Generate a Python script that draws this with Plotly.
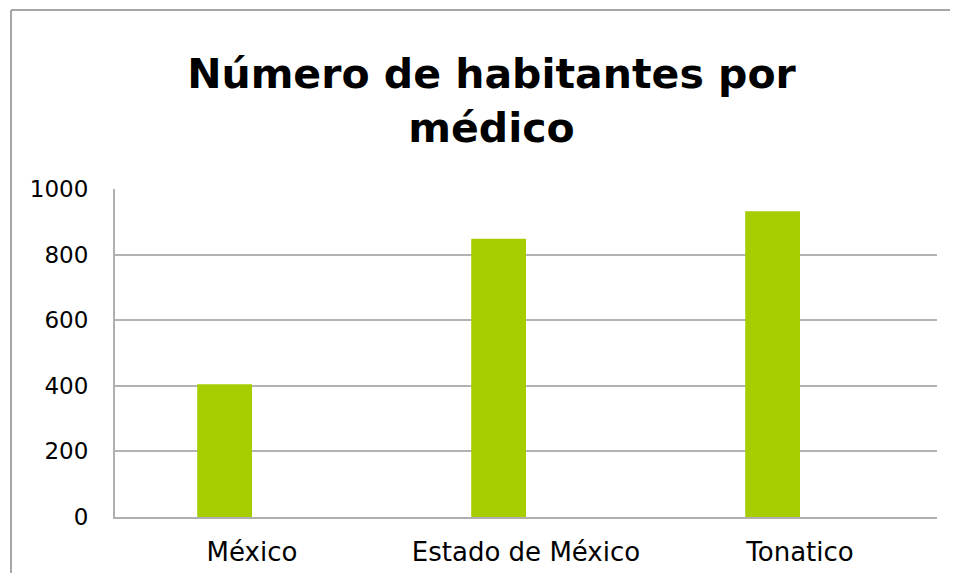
import plotly.graph_objects as go

categories = ["México", "Estado de México", "Tonatico"]
values = [405, 848, 932]
y_ticks = [0, 200, 400, 600, 800, 1000]

FONT = "DejaVu Sans"

fig = go.Figure()
fig.add_trace(go.Bar(
    x=categories, y=values,
    marker=dict(color="#A5CD00", line=dict(width=0)),
    width=0.2, offset=-0.2,
    showlegend=False,
))

fig.update_layout(
    width=950, height=565,
    margin=dict(l=107, r=21, t=181, b=56),
    paper_bgcolor="white", plot_bgcolor="white",
    font=dict(family=FONT, color="black"),
    title=dict(
        text="<b>Número de habitantes por<br>médico</b>",
        x=0.458, xanchor="center", xref="paper",
        y=0.858, yanchor="top", yref="container",
        font=dict(family=FONT, size=41, color="black"),
    ),
    xaxis=dict(
        type="category", range=[-0.5, 2.5], automargin=False,
        showgrid=False, showline=True, linecolor="#AFAFAF", linewidth=2,
        tickfont=dict(size=26, family=FONT),
        ticks="", ticklabelstandoff=11,
    ),
    yaxis=dict(
        range=[0, 1000], tickvals=y_ticks, automargin=False,
        showgrid=True, gridcolor="#B3B3B3", gridwidth=2,
        showline=True, linecolor="#AFAFAF", linewidth=2,
        zeroline=False,
        tickfont=dict(size=23, family=FONT),
        ticks="", ticklabelstandoff=20,
    ),
    shapes=[
        dict(type="line", xref="paper", yref="paper",
             x0=-0.1265, x1=1.5, y0=1.5457, y1=1.5457,
             line=dict(color="#A6A6A6", width=2), layer="below"),
        dict(type="line", xref="paper", yref="paper",
             x0=-0.1265, x1=-0.1265, y0=-0.5, y1=1.5457,
             line=dict(color="#A6A6A6", width=2), layer="below"),
    ],
)

fig.write_html("out.html")
